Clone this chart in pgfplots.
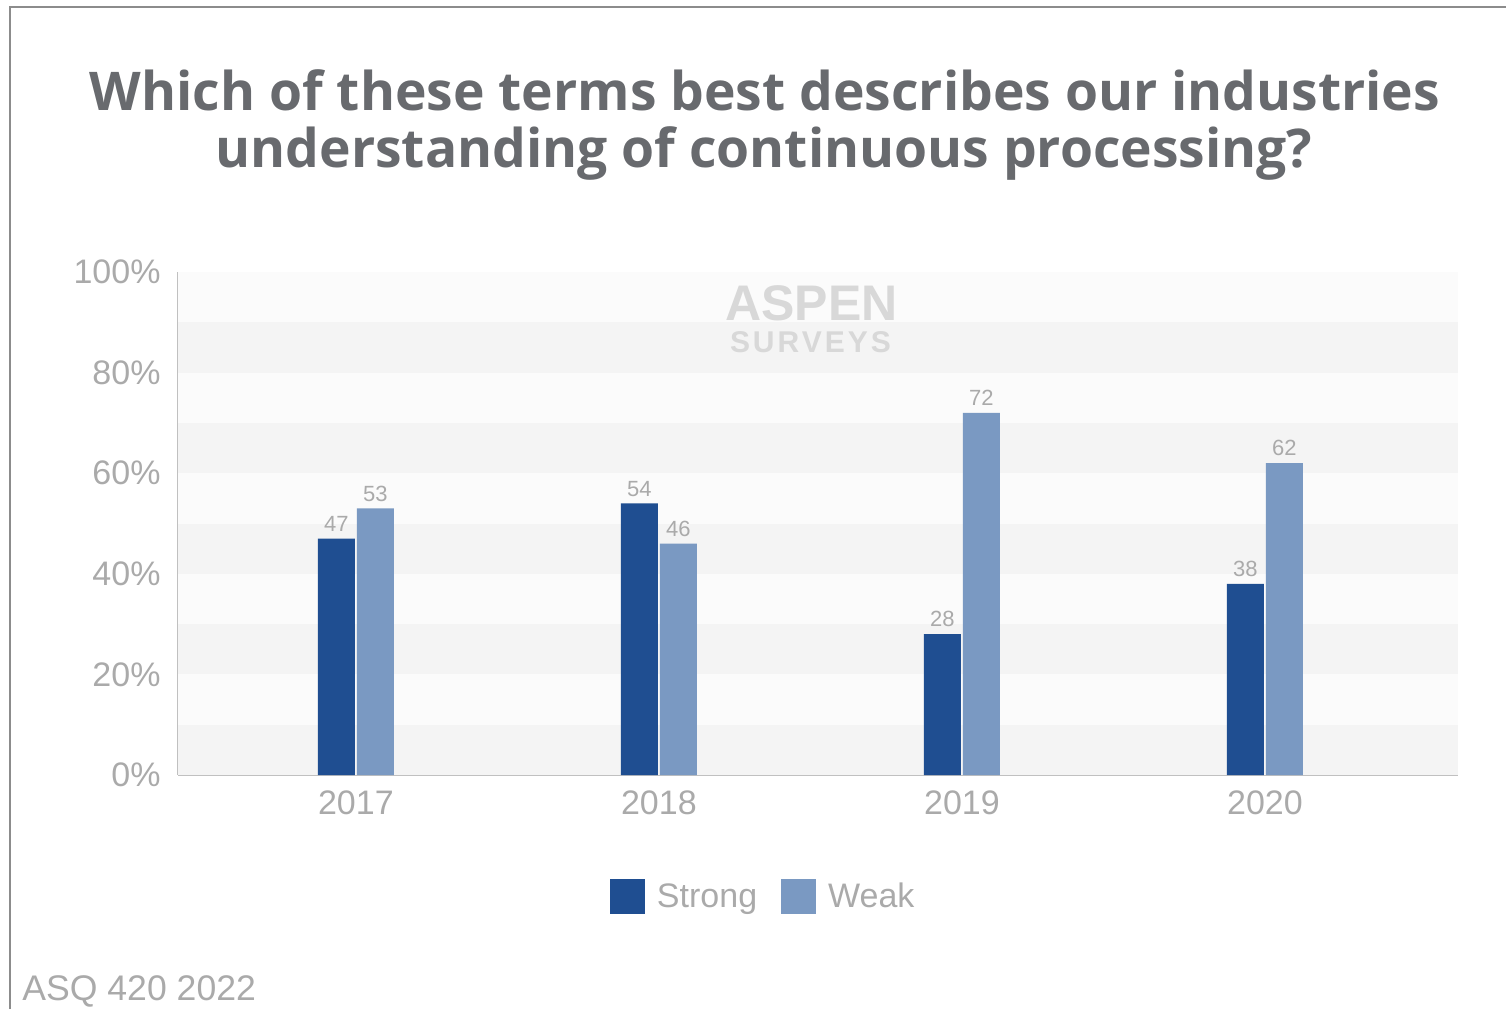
\documentclass[border=0pt]{standalone}
\usepackage{fontspec}
\setmainfont{Liberation Sans}
\newfontfamily\titlefont{Open Sans}
\usepackage{pgfplots}
\pgfplotsset{compat=1.18}

\definecolor{strongc}{RGB}{31,78,145}
\definecolor{weakc}{RGB}{122,153,194}
\definecolor{tickc}{RGB}{170,170,170}
\definecolor{titlec}{RGB}{104,106,110}
\definecolor{axisc}{RGB}{192,192,192}
\definecolor{bandA}{RGB}{244,244,244}
\definecolor{bandB}{RGB}{251,251,251}
\definecolor{markc}{RGB}{216,216,216}
\definecolor{framec}{RGB}{140,140,140}

\begin{document}
\begin{tikzpicture}
\useasboundingbox (0pt,0pt) rectangle (753pt,504.5pt);
% frame
\draw[framec, line width=1.2pt] (5pt,0pt) -- (5pt,501pt) -- (753pt,501pt);
% title
\node[anchor=base, text=titlec, font=\titlefont\bfseries\fontsize{26.7}{30}\selectfont]
  at (382.5pt,449pt) {Which of these terms best describes our industries};
\node[anchor=base, text=titlec, font=\titlefont\bfseries\fontsize{26.7}{30}\selectfont]
  at (382pt,420.5pt) {understanding of continuous processing?};
% source
\node[anchor=base west, inner sep=0pt, text=tickc, font=\fontsize{17.8}{20}\selectfont]
  at (11pt,4.5pt) {ASQ 420 2022};

\begin{axis}[
  at={(89pt,117pt)}, anchor=south west,
  width=640pt, height=251.5pt, scale only axis,
  xmin=-0.587, xmax=3.637, ymin=0, ymax=100,
  ybar=1pt, bar width=18.5pt,
  xtick={0,1,2,3}, xticklabels={2017,2018,2019,2020},
  ytick={0,20,...,100},
  yticklabel={\pgfmathprintnumber{\tick}\%},
  axis x line*=bottom, axis y line*=left,
  axis line style={axisc, line width=1.2pt, -},
  major tick length=0pt,
  /pgf/number format/assume math mode=true,
  tick label style={text=tickc, font=\fontsize{17}{20}\selectfont},
  yticklabel style={xshift=-5.2pt},
  xticklabel style={yshift=-4.5pt},
  nodes near coords,
  nodes near coords style={text=tickc, font=\fontsize{11}{13}\selectfont},
  legend columns=2,
  legend style={at={(0.458,-0.2425)}, anchor=center, draw=none, fill=none,
    text=tickc, font=\fontsize{17}{20}\selectfont,
    /tikz/every odd column/.append style={column sep=4pt},
    /tikz/every even column/.append style={column sep=10pt}},
  clip=false,
]
% background bands
\fill[bandB] (axis cs:-0.587,0) rectangle (axis cs:3.637,100);
\fill[bandA] (axis cs:-0.587,0) rectangle (axis cs:3.637,10);
\fill[bandA] (axis cs:-0.587,20) rectangle (axis cs:3.637,30);
\fill[bandA] (axis cs:-0.587,40) rectangle (axis cs:3.637,50);
\fill[bandA] (axis cs:-0.587,60) rectangle (axis cs:3.637,70);
\fill[bandA] (axis cs:-0.587,80) rectangle (axis cs:3.637,90);
% watermark
\node[anchor=base, text=markc, font=\bfseries\fontsize{25}{28}\selectfont]
  at (axis cs:1.503,90.3) {ASPEN};
\node[anchor=base, text=markc, font=\bfseries\fontsize{15}{18}\selectfont\addfontfeatures{LetterSpace=10}]
  at (axis cs:1.500,83.9) {SURVEYS};

\addplot[fill=strongc, draw=none,
  legend image code/.code={\fill[strongc] (0pt,-8.75pt) rectangle (17.5pt,8.75pt);}]
  coordinates {(0,47) (1,54) (2,28) (3,38)};
\addplot[fill=weakc, draw=none,
  legend image code/.code={\fill[weakc] (0pt,-8.75pt) rectangle (17.5pt,8.75pt);}]
  coordinates {(0,53) (1,46) (2,72) (3,62)};
\legend{Strong,Weak}
\end{axis}
\end{tikzpicture}
\end{document}
